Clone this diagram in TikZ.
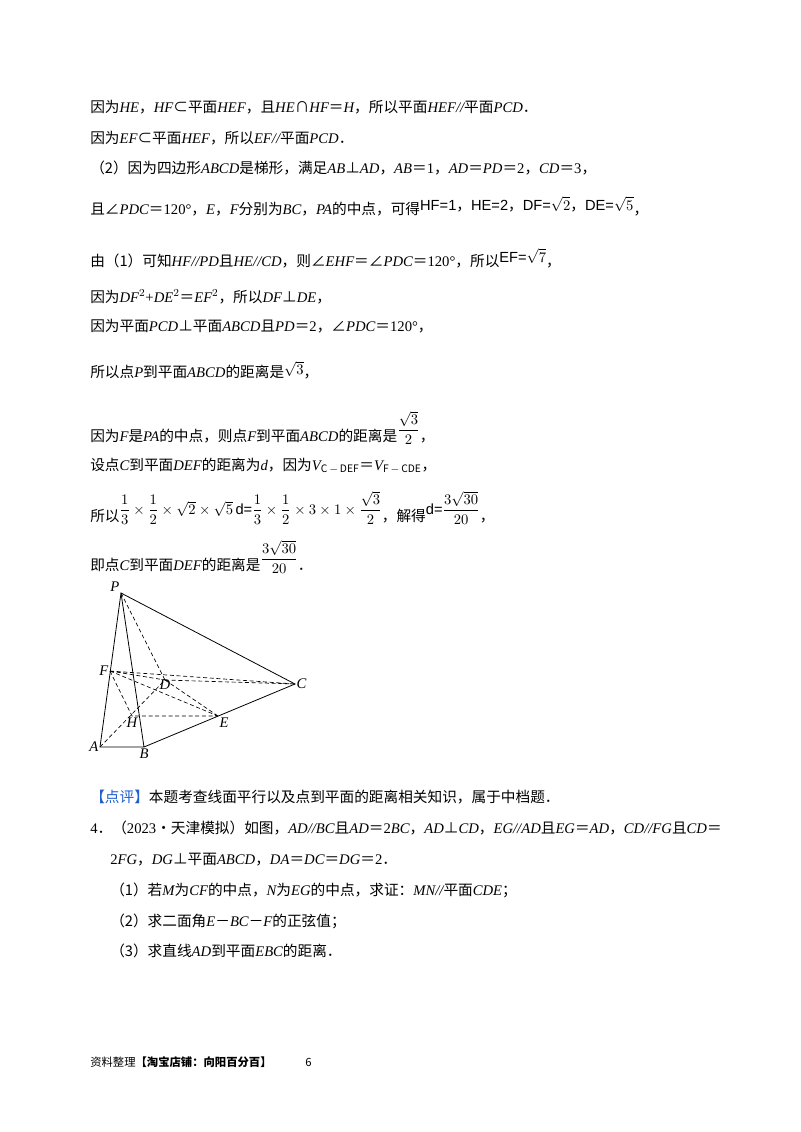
\documentclass[tikz,border=0pt]{standalone}
\usepackage{amsmath}
\usepackage{fontspec}
\setmainfont{Noto Sans CJK SC}
\newfontfamily\serif{Liberation Serif}
\newfontfamily\arial{Liberation Sans}
\newcommand\I[1]{{\serif\itshape #1}}
\newcommand\R[1]{{\serif #1}}
\newcommand\A[1]{{\arial #1}}
\begin{document}
\begin{tikzpicture}[x=0.75pt,y=-0.75pt,
  tl/.style={anchor=base west,inner sep=0pt,font=\fontsize{11}{13}\selectfont},
  pl/.style={font=\serif\itshape\fontsize{11}{13}\selectfont,inner sep=1pt},
  sl/.style={line width=0.6pt},
  dl/.style={line width=0.5pt,densely dashed}]
\fill[white] (0,0) rectangle (800,1132);
\node[tl] (l1) at (90,112) {因为\I{HE}，\I{HF}⊂平面\I{HEF}，且\I{HE}∩\I{HF}＝\I{H}，所以平面\I{HEF}\I{//}平面\I{PCD}．};
\node[tl] (l2) at (90,143) {因为\I{EF}⊂平面\I{HEF}，所以\I{EF}\I{//}平面\I{PCD}．};
\node[tl] (l3) at (90,173) {（2）因为四边形\I{ABCD}是梯形，满足\I{AB}⊥\I{AD}，\I{AB}＝\R{1}，\I{AD}＝\I{PD}＝\R{2}，\I{CD}＝\R{3}，};
\node[tl] (l4) at (90,214) {且∠\I{PDC}＝\R{120°}，\I{E}，\I{F}分别为\I{BC}，\I{PA}的中点，可得\raisebox{3pt}{\A{HF=1}，\A{HE=2}，\A{DF=$\sqrt{2}$}，\A{DE=$\sqrt{5}$}}，};
\node[tl] (l5) at (90,266) {由（1）可知\I{HF}\I{//}\I{PD}且\I{HE}\I{//}\I{CD}，则∠\I{EHF}＝∠\I{PDC}＝\R{120°}，所以\raisebox{3pt}{\A{EF=$\sqrt{7}$}}，};
\node[tl] (l6) at (90,302) {因为\I{DF}\R{$^2$+}\I{DE}\R{$^2$}＝\I{EF}\R{$^2$}，所以\I{DF}⊥\I{DE}，};
\node[tl] (l7) at (90,331) {因为平面\I{PCD}⊥平面\I{ABCD}且\I{PD}＝\R{2}，∠\I{PDC}＝\R{120°}，};
\node[tl] (l8) at (90,377) {所以点\I{P}到平面\I{ABCD}的距离是\raisebox{2pt}{$\sqrt{3}$}，};
\node[tl] (l9) at (90,441) {因为\I{F}是\I{PA}的中点，则点\I{F}到平面\I{ABCD}的距离是\raisebox{5pt}{$\dfrac{\sqrt{3}}{2}$}，};
\node[tl] (l10) at (90,470) {设点\I{C}到平面\I{DEF}的距离为\I{d}，因为\I{V}$_{\mathit{C\,-\,DEF}}$＝\I{V}$_{\mathit{F\,-\,CDE}}$，};
\node[tl] (l11) at (90,521) {所以\raisebox{5pt}{$\dfrac{1}{3}\times\dfrac{1}{2}\times\sqrt{2}\times\sqrt{5}\,$\A{d=}$\dfrac{1}{3}\times\dfrac{1}{2}\times3\times1\times\dfrac{\sqrt{3}}{2}$}，解得\raisebox{5pt}{\A{d=}$\dfrac{3\sqrt{30}}{20}$}，};
\node[tl] (l12) at (90,570) {即点\I{C}到平面\I{DEF}的距离是\raisebox{5pt}{$\dfrac{3\sqrt{30}}{20}$}．};
% figure
\coordinate (P) at (121,593);
\coordinate (F) at (110,671);
\coordinate (D) at (165,680);
\coordinate (C) at (295,684);
\coordinate (E) at (218,716);
\coordinate (H) at (132,716);
\coordinate (A) at (100,747);
\coordinate (B) at (144,747);
\draw[sl] (P)--(A)--(B)--(P)--(C)--(B);
\draw[dl] (P)--(D) (A)--(D)--(C) (F)--(C) (F)--(D) (F)--(E) (F)--(H)--(E) (D)--(E);
\node[pl,anchor=south east] (nP) at (P) {P};
\node[pl,anchor=east] (nF) at (F) {F};
\node[pl,anchor=north,yshift=1pt] (nD) at (D) {D};
\node[pl,anchor=west] (nC) at (C) {C};
\node[pl,anchor=north west] (nE) at (E) {E};
\node[pl,anchor=north] (nH) at (H) {H};
\node[pl,anchor=east] (nA) at (A) {A};
\node[pl,anchor=north] (nB) at (B) {B};
\node[tl] (dp) at (90,802) {\textcolor[HTML]{1F5FCF}{【点评】}本题考查线面平行以及点到平面的距离相关知识，属于中档题．};
\node[tl] (q4) at (90,833) {\R{4}．（\R{2023}•天津模拟）如图，\I{AD}\I{//}\I{BC}且\I{AD}＝\R{2}\I{BC}，\I{AD}⊥\I{CD}，\I{EG}\I{//}\I{AD}且\I{EG}＝\I{AD}，\I{CD}\I{//}\I{FG}且\I{CD}＝};
\node[tl] (q4b) at (110,864) {\R{2}\I{FG}，\I{DG}⊥平面\I{ABCD}，\I{DA}＝\I{DC}＝\I{DG}＝\R{2}．};
\node[tl] (s1) at (110,895) {（1）若\I{M}为\I{CF}的中点，\I{N}为\I{EG}的中点，求证：\I{MN}\I{//}平面\I{CDE}；};
\node[tl] (s2) at (110,926) {（2）求二面角\I{E}－\I{BC}－\I{F}的正弦值；};
\node[tl] (s3) at (110,956) {（3）求直线\I{AD}到平面\I{EBC}的距离．};
\node[tl,font=\fontsize{8.5}{10}\selectfont] (ft) at (90,1066) {资料整理\textbf{【淘宝店铺：向阳百分百】}};
\node[tl,font=\fontsize{8.5}{10}\selectfont] (pg) at (305,1066) {6};
\end{tikzpicture}
\end{document}
